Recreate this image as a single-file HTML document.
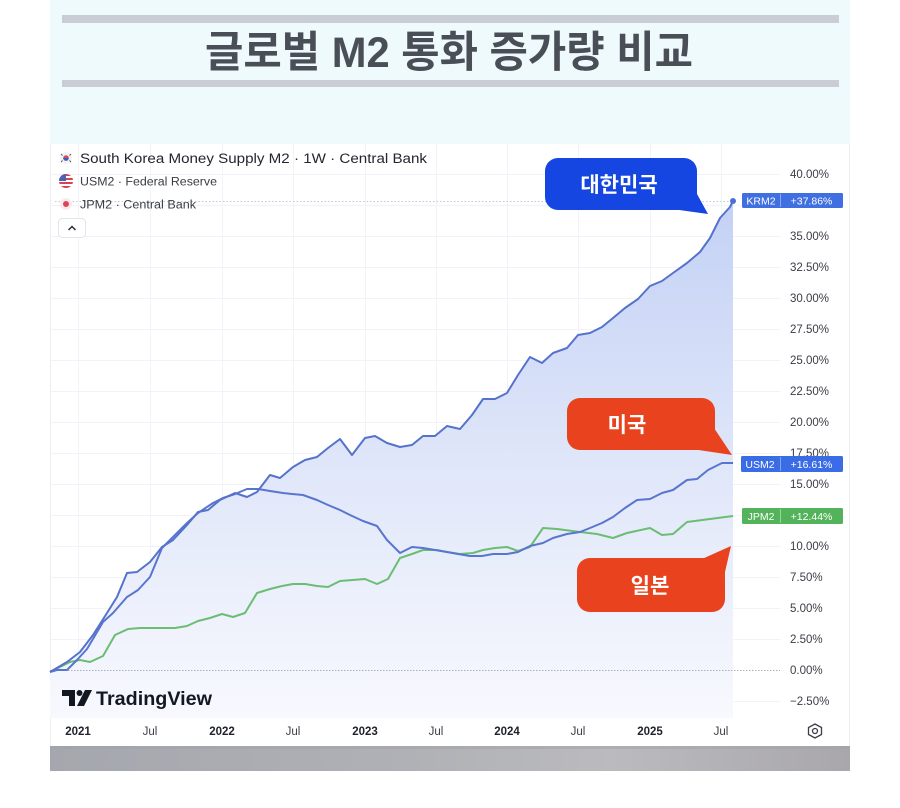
<!DOCTYPE html>
<html>
<head>
<meta charset="utf-8">
<style>
html,body{margin:0;padding:0;background:#ffffff;}
body{width:900px;height:808px;overflow:hidden;}
svg{display:block;}
</style>
</head>
<body>
<svg width="900" height="808" viewBox="0 0 900 808" xmlns="http://www.w3.org/2000/svg">
  <defs>
    <linearGradient id="areaGrad" gradientUnits="userSpaceOnUse" x1="0" y1="200" x2="0" y2="720">
      <stop offset="0" stop-color="#c3d1f5"/>
      <stop offset="0.5" stop-color="#dfe6f9"/>
      <stop offset="1" stop-color="#f8f9fe"/>
    </linearGradient>
    <linearGradient id="barGrad" x1="0" y1="0" x2="1" y2="0">
      <stop offset="0" stop-color="#a5a7ae"/>
      <stop offset="0.45" stop-color="#b0b1b6"/>
      <stop offset="0.7" stop-color="#bbbbbe"/>
      <stop offset="1" stop-color="#a9a7ac"/>
    </linearGradient>
  </defs>

  <!-- header panel -->
  <rect x="50" y="0" width="800" height="144" fill="#eefafc"/>
  <rect x="62" y="15" width="777" height="8" fill="#c9ced6"/>
  <rect x="62" y="80" width="777" height="7" fill="#c9ced6"/>
  <text x="449" y="67" text-anchor="middle" font-family="'Liberation Sans','Noto Sans CJK KR',sans-serif" font-weight="700" font-size="43" fill="#4a4f57" textLength="488" lengthAdjust="spacingAndGlyphs">글로벌 M2 통화 증가량 비교</text>

  <!-- chart panel -->
  <rect x="50" y="144" width="800" height="602" fill="#ffffff"/>
  <line x1="50.5" y1="144" x2="50.5" y2="746" stroke="#eceef2" stroke-width="1"/>
  <line x1="849.5" y1="144" x2="849.5" y2="746" stroke="#eceef2" stroke-width="1"/>

  <!-- grid horizontal -->
  <g stroke="#f1f3f8" stroke-width="1">
    <line x1="50" y1="174.5" x2="780" y2="174.5"/>
    <line x1="50" y1="205.5" x2="780" y2="205.5"/>
    <line x1="50" y1="236.5" x2="780" y2="236.5"/>
    <line x1="50" y1="267.5" x2="780" y2="267.5"/>
    <line x1="50" y1="298.5" x2="780" y2="298.5"/>
    <line x1="50" y1="329.5" x2="780" y2="329.5"/>
    <line x1="50" y1="360.5" x2="780" y2="360.5"/>
    <line x1="50" y1="391.5" x2="780" y2="391.5"/>
    <line x1="50" y1="422.5" x2="780" y2="422.5"/>
    <line x1="50" y1="453.5" x2="780" y2="453.5"/>
    <line x1="50" y1="484.5" x2="780" y2="484.5"/>
    <line x1="50" y1="515.5" x2="780" y2="515.5"/>
    <line x1="50" y1="546.5" x2="780" y2="546.5"/>
    <line x1="50" y1="577.5" x2="780" y2="577.5"/>
    <line x1="50" y1="608.5" x2="780" y2="608.5"/>
    <line x1="50" y1="639.5" x2="780" y2="639.5"/>
    <line x1="50" y1="701.5" x2="780" y2="701.5"/>
  </g>
  <!-- grid vertical -->
  <g stroke="#f1f3f8" stroke-width="1">
    <line x1="78.5" y1="144" x2="78.5" y2="718"/>
    <line x1="150.5" y1="144" x2="150.5" y2="718"/>
    <line x1="222.5" y1="144" x2="222.5" y2="718"/>
    <line x1="293.5" y1="144" x2="293.5" y2="718"/>
    <line x1="365.5" y1="144" x2="365.5" y2="718"/>
    <line x1="436.5" y1="144" x2="436.5" y2="718"/>
    <line x1="507.5" y1="144" x2="507.5" y2="718"/>
    <line x1="578.5" y1="144" x2="578.5" y2="718"/>
    <line x1="650.5" y1="144" x2="650.5" y2="718"/>
    <line x1="721.5" y1="144" x2="721.5" y2="718"/>
  </g>

  <!-- KRM2 area -->
  <path fill="url(#areaGrad)" d="M50,672 L67,662 L80,652 L93,635 L107,613 L117,597 L127,573 L137,572 L150,562 L162,547 L173,540 L187,525 L198,512 L208,510 L220,500 L235,493 L247,497 L257,492 L270,475 L280,478 L293,467 L305,460 L317,457 L328,448 L340,439 L352,455 L365,438 L375,436 L387,443 L400,447 L412,445 L423,436 L435,436 L447,426 L460,429 L472,415 L483,399 L495,399 L507,393 L518,375 L530,357 L542,363 L553,353 L567,348 L578,335 L590,333 L602,327 L613,318 L625,308 L638,299 L650,286 L662,281 L673,273 L687,263 L700,252 L710,238 L720,218 L730,207 L733,201 L733,718 L50,718 Z"/>

  <!-- zero line & price line -->
  <line x1="50" y1="670.5" x2="780" y2="670.5" stroke="#a9b0bf" stroke-width="1" stroke-dasharray="1.5 1.5"/>
  <line x1="55" y1="201.5" x2="733" y2="201.5" stroke="#c2c8d6" stroke-width="1" stroke-dasharray="1.5 2"/>

  <!-- JPM2 -->
  <polyline fill="none" stroke="#6cbd74" stroke-width="2" stroke-linejoin="round" points="50,672 60,667 70,662 80,660 90,662 103,656 115,635 128,629 140,628 175,628 187,626 198,621 210,618 222,614 233,617 245,613 257,593 270,589 282,586 293,584 305,584 317,586 328,587 340,581 365,579 377,584 388,579 400,558 412,554 423,550 437,550 447,552 460,554 473,553 483,550 495,548 507,547 518,551 530,547 543,528 557,529 580,532 597,534 613,538 627,533 650,528 662,535 673,534 687,522 733,516"/>

  <!-- USM2 -->
  <polyline fill="none" stroke="#5875cf" stroke-width="2" stroke-linejoin="round" points="50,672 57,670 67,670 77,660 87,649 103,622 113,613 127,597 138,590 150,577 162,548 175,535 187,523 198,513 213,503 223,498 235,494 247,489 258,489 270,491 283,493 292,494 303,495 317,500 328,505 340,510 350,515 363,521 377,526 387,540 400,553 412,547 423,548 435,550 447,552 458,554 470,556 482,556 493,554 507,554 518,552 530,546 543,543 553,538 567,534 580,532 590,528 602,523 613,517 625,508 637,500 650,499 662,493 673,490 687,480 697,479 708,470 722,463 733,463"/>

  <!-- KRM2 -->
  <polyline fill="none" stroke="#5572cc" stroke-width="2" stroke-linejoin="round" points="50,672 67,662 80,652 93,635 107,613 117,597 127,573 137,572 150,562 162,547 173,540 187,525 198,512 208,510 220,500 235,493 247,497 257,492 270,475 280,478 293,467 305,460 317,457 328,448 340,439 352,455 365,438 375,436 387,443 400,447 412,445 423,436 435,436 447,426 460,429 472,415 483,399 495,399 507,393 518,375 530,357 542,363 553,353 567,348 578,335 590,333 602,327 613,318 625,308 638,299 650,286 662,281 673,273 687,263 700,252 710,238 720,218 730,207 733,201"/>
  <circle cx="733" cy="201" r="3" fill="#4a6fd6"/>

  <!-- price scale labels -->
  <g font-family="'Liberation Sans',sans-serif" font-size="11.5" fill="#3a3d45">
    <text x="790" y="178">40.00%</text>
    <text x="790" y="240">35.00%</text>
    <text x="790" y="271">32.50%</text>
    <text x="790" y="302">30.00%</text>
    <text x="790" y="333">27.50%</text>
    <text x="790" y="364">25.00%</text>
    <text x="790" y="395">22.50%</text>
    <text x="790" y="426">20.00%</text>
    <text x="790" y="457">17.50%</text>
    <text x="790" y="488">15.00%</text>
    <text x="790" y="550">10.00%</text>
    <text x="790" y="581">7.50%</text>
    <text x="790" y="612">5.00%</text>
    <text x="790" y="643">2.50%</text>
    <text x="790" y="674">0.00%</text>
    <text x="790" y="705">−2.50%</text>
  </g>

  <!-- tags -->
  <g font-family="'Liberation Sans',sans-serif" font-size="10.5" fill="#ffffff">
    <rect x="742" y="193" width="101" height="15" rx="1.5" fill="#3f6fe0"/>
    <line x1="780.5" y1="194" x2="780.5" y2="207" stroke="#8aa6ee" stroke-width="1"/>
    <text x="761" y="204.5" text-anchor="middle">KRM2</text>
    <text x="811.5" y="204.5" text-anchor="middle">+37.86%</text>

    <rect x="741" y="456" width="102" height="16" rx="1.5" fill="#3a6ce6"/>
    <line x1="780.5" y1="457" x2="780.5" y2="471" stroke="#86a3ee" stroke-width="1"/>
    <text x="760" y="468" text-anchor="middle">USM2</text>
    <text x="811.5" y="468" text-anchor="middle">+16.61%</text>

    <rect x="742" y="508" width="101" height="16" rx="1.5" fill="#52b35a"/>
    <line x1="780.5" y1="509" x2="780.5" y2="523" stroke="#9ad59e" stroke-width="1"/>
    <text x="761" y="520" text-anchor="middle">JPM2</text>
    <text x="811.5" y="520" text-anchor="middle">+12.44%</text>
  </g>

  <!-- legend -->
  <g>
    <!-- KR flag -->
    <circle cx="66" cy="158" r="6" fill="#f3f3f7"/>
    <circle cx="66" cy="158" r="2.8" fill="#d44a5a"/>
    <path d="M63.2,158 a2.8,2.8 0 0 0 5.6,0 z" fill="#3a5fbf"/>
    <g stroke="#555" stroke-width="0.9">
      <line x1="61" y1="154" x2="62.5" y2="155.5"/>
      <line x1="71" y1="154" x2="69.5" y2="155.5"/>
      <line x1="61" y1="162" x2="62.5" y2="160.5"/>
      <line x1="71" y1="162" x2="69.5" y2="160.5"/>
    </g>
    <!-- US flag -->
    <clipPath id="usc"><circle cx="66" cy="181" r="7"/></clipPath>
    <g clip-path="url(#usc)">
      <rect x="59" y="174" width="14" height="14" fill="#ffffff"/>
      <rect x="59" y="174" width="14" height="2" fill="#d9424f"/>
      <rect x="59" y="178" width="14" height="2" fill="#d9424f"/>
      <rect x="59" y="182" width="14" height="2" fill="#d9424f"/>
      <rect x="59" y="186" width="14" height="2" fill="#d9424f"/>
      <rect x="59" y="174" width="7" height="7" fill="#4a62b8"/>
    </g>
    <!-- JP -->
    <circle cx="66" cy="204" r="6" fill="#fbe9ec"/>
    <circle cx="66" cy="204" r="3" fill="#d9455a"/>

    <g font-family="'Liberation Sans',sans-serif" fill="#23262e">
      <text x="80" y="163" font-size="13.5" textLength="347" lengthAdjust="spacingAndGlyphs">South Korea Money Supply M2 · 1W · Central Bank</text>
      <text x="80" y="185.5" font-size="11.5" fill="#3a3d45" textLength="137" lengthAdjust="spacingAndGlyphs">USM2 · Federal Reserve</text>
      <text x="80" y="208.5" font-size="11.5" fill="#3a3d45" textLength="116" lengthAdjust="spacingAndGlyphs">JPM2 · Central Bank</text>
    </g>
    <rect x="58.5" y="218.5" width="27" height="19" rx="4" fill="#ffffff" stroke="#e2e5ec"/>
    <path d="M68.5,230 L72,226.5 L75.5,230" fill="none" stroke="#2a2e39" stroke-width="1.5"/>
  </g>

  <!-- callouts -->
  <g font-family="'Liberation Sans','Noto Sans CJK KR',sans-serif" font-weight="700" font-size="21" fill="#ffffff" text-anchor="middle">
    <rect x="545" y="158" width="152" height="52" rx="13" fill="#1546e2"/>
    <polygon points="672,209 697,194 708,214" fill="#1546e2"/>
    <text x="619" y="192">대한민국</text>

    <rect x="567" y="398" width="148" height="52" rx="13" fill="#e8421e"/>
    <polygon points="692,449 714,428 732,455" fill="#e8421e"/>
    <text x="627" y="432">미국</text>

    <rect x="577" y="558" width="148" height="54" rx="13" fill="#e8421e"/>
    <polygon points="702,559 725,572 731,546" fill="#e8421e"/>
    <text x="650" y="593">일본</text>
  </g>

  <!-- TradingView logo -->
  <g fill="#131722">
    <path d="M62,690 H75 V706 H69 V696 H62 Z"/>
    <circle cx="79.5" cy="693" r="3"/>
    <path d="M85,690 H92 L84,706 H77 Z"/>
    <text x="96" y="705" font-family="'Liberation Sans',sans-serif" font-size="19" font-weight="700" textLength="116" lengthAdjust="spacingAndGlyphs" fill="#131722">TradingView</text>
  </g>

  <!-- time axis -->
  <g font-family="'Liberation Sans',sans-serif" font-size="11.5" fill="#1f222a" text-anchor="middle">
    <text x="78" y="735" font-weight="700">2021</text>
    <text x="150" y="735" fill="#3a3d45">Jul</text>
    <text x="222" y="735" font-weight="700">2022</text>
    <text x="293" y="735" fill="#3a3d45">Jul</text>
    <text x="365" y="735" font-weight="700">2023</text>
    <text x="436" y="735" fill="#3a3d45">Jul</text>
    <text x="507" y="735" font-weight="700">2024</text>
    <text x="578" y="735" fill="#3a3d45">Jul</text>
    <text x="650" y="735" font-weight="700">2025</text>
    <text x="721" y="735" fill="#3a3d45">Jul</text>
  </g>
  <!-- gear -->
  <polygon points="815,724 821.5,727.5 821.5,734.5 815,738 808.5,734.5 808.5,727.5" fill="none" stroke="#3a3d45" stroke-width="1.3"/>
  <circle cx="815" cy="731" r="2.5" fill="none" stroke="#3a3d45" stroke-width="1.3"/>

  <!-- bottom gray bar -->
  <rect x="50" y="746" width="800" height="25" fill="url(#barGrad)"/>
  <rect x="50" y="746" width="800" height="3" fill="#9fa1a7" opacity="0.5"/>
</svg>
</body>
</html>
